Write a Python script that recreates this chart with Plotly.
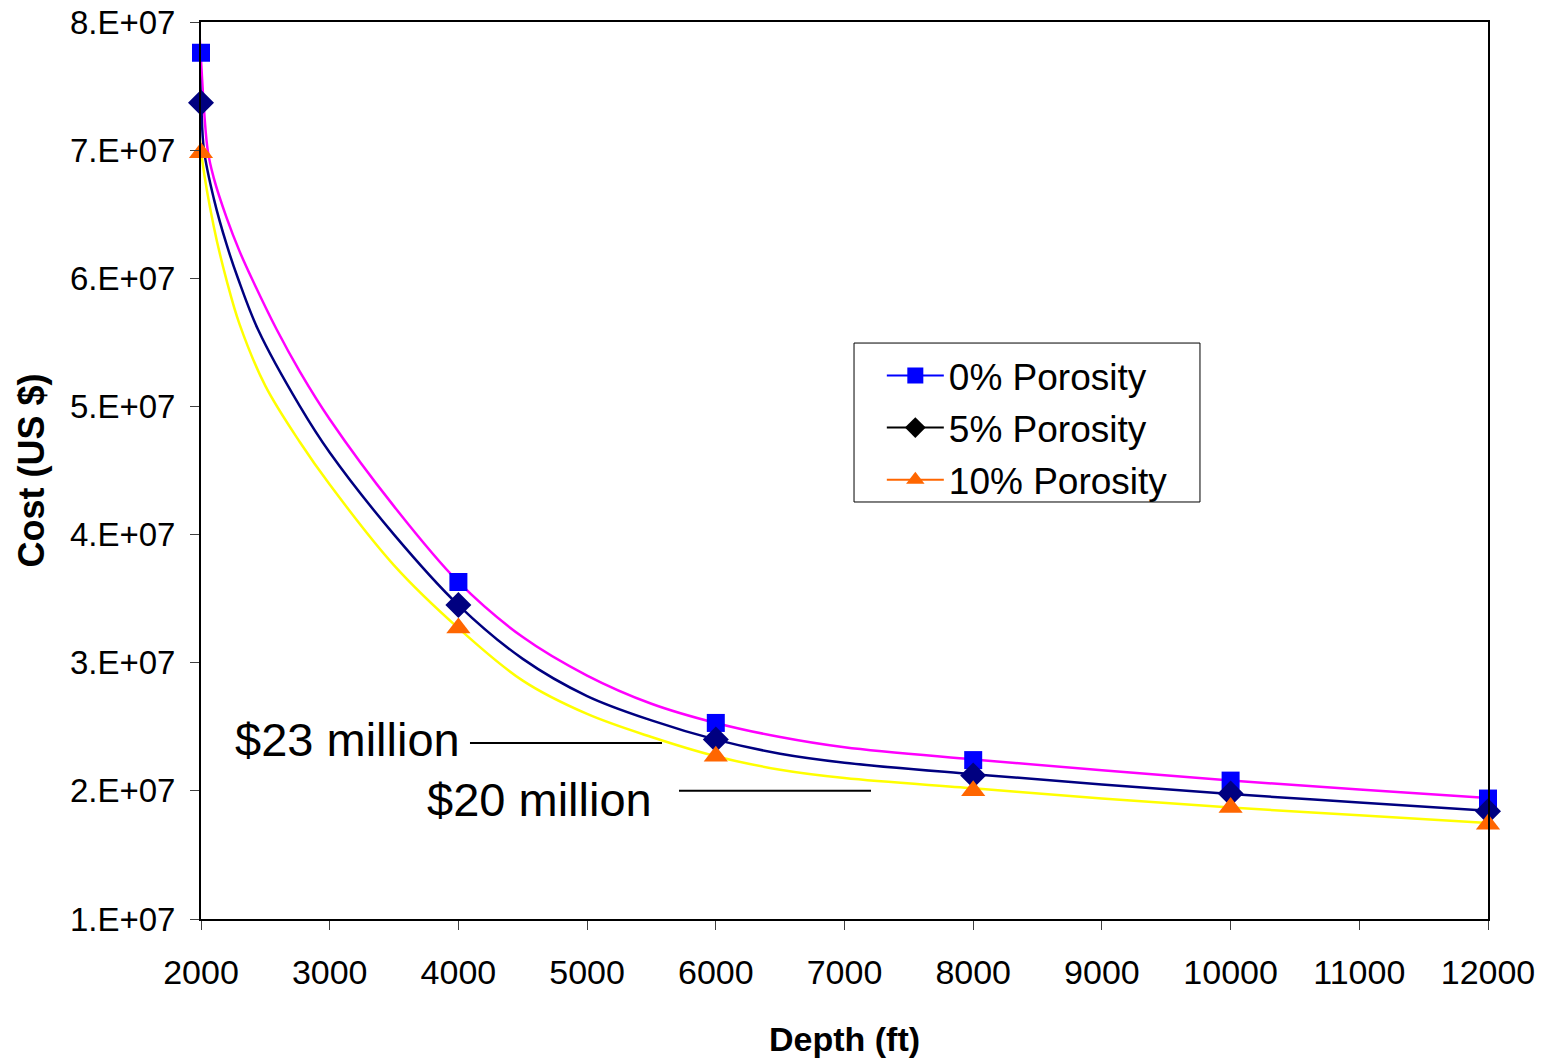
import plotly.graph_objects as go

# Marker data (depth ft, cost US$)
depth = [2000, 4000, 6000, 8000, 10000, 12000]
cost_0 = [7.76e7, 3.63e7, 2.53e7, 2.24e7, 2.08e7, 1.94e7]
cost_5 = [7.37e7, 3.45e7, 2.40e7, 2.12e7, 1.98e7, 1.84e7]
cost_10 = [6.98e7, 3.27e7, 2.27e7, 2.00e7, 1.87e7, 1.74e7]

# Smoothed curves
curve0_x = [1984, 2000, 2052, 2100, 2200, 2300, 2394, 2588, 2769, 3000, 3500, 4000, 4500, 5000, 5500, 6000, 6500, 7000, 8000, 9000, 10000, 11000, 12000]
curve0_y = [8.00e7, 7.70e7, 7.00e7, 6.78e7, 6.47e7, 6.21e7, 6.00e7, 5.60e7, 5.27e7, 4.90e7, 4.22e7, 3.63e7, 3.20e7, 2.90e7, 2.68e7, 2.53e7, 2.42e7, 2.34e7, 2.245e7, 2.16e7, 2.08e7, 2.01e7, 1.945e7]
curve5_x = [1969, 2000, 2023, 2100, 2200, 2287, 2443, 2769, 3000, 3500, 4000, 4500, 5000, 5500, 6000, 6500, 7000, 8000, 9000, 10000, 11000, 12000]
curve5_y = [8.00e7, 7.40e7, 7.00e7, 6.62e7, 6.26e7, 6.00e7, 5.60e7, 5.00e7, 4.64e7, 4.00e7, 3.45e7, 3.03e7, 2.74e7, 2.55e7, 2.40e7, 2.29e7, 2.22e7, 2.13e7, 2.05e7, 1.975e7, 1.91e7, 1.845e7]
curve10_x = [1946, 2000, 2100, 2200, 2300, 2500, 2769, 3000, 3500, 4000, 4500, 5000, 5500, 6000, 6500, 7000, 8000, 9000, 10000, 11000, 12000]
curve10_y = [8.00e7, 7.00e7, 6.40e7, 5.98e7, 5.64e7, 5.16e7, 4.72e7, 4.39e7, 3.76e7, 3.27e7, 2.86e7, 2.60e7, 2.42e7, 2.27e7, 2.165e7, 2.10e7, 2.02e7, 1.94e7, 1.87e7, 1.81e7, 1.75e7]

series_names = ["0% Porosity", "5% Porosity", "10% Porosity"]
y_tickvals = [1e7, 2e7, 3e7, 4e7, 5e7, 6e7, 7e7, 8e7]
y_ticktext = ["1.E+07", "2.E+07", "3.E+07", "4.E+07", "5.E+07", "6.E+07", "7.E+07", "8.E+07"]
x_tickvals = list(range(2000, 12001, 1000))

ARIAL = "Liberation Sans, Arial"

fig = go.Figure()

curve_colors = ["#FF00FF", "#000080", "#FFFF00"]
for cx, cy, col in [(curve0_x, curve0_y, curve_colors[0]),
                    (curve5_x, curve5_y, curve_colors[1]),
                    (curve10_x, curve10_y, curve_colors[2])]:
    fig.add_trace(go.Scatter(x=cx, y=cy, mode="lines",
                             line=dict(color=col, width=2.5, shape="spline", smoothing=1.0),
                             showlegend=False, hoverinfo="skip"))

marker_specs = [
    (cost_0, "square", "#0000FF", 18),
    (cost_5, "diamond", "#000080", 20),
    (cost_10, "triangle-up", "#FF6600", 21),
]
for ys, sym, col, sz in marker_specs:
    fig.add_trace(go.Scatter(x=depth, y=ys, mode="markers",
                             marker=dict(symbol=sym, color=col, size=sz, line=dict(width=0)),
                             showlegend=False, cliponaxis=False))

legend_specs = [
    (series_names[0], "square", "#0000FF", "#0000FF"),
    (series_names[1], "diamond", "#000000", "#000000"),
    (series_names[2], "triangle-up", "#FF6600", "#FF6600"),
]
for i, (name, sym, mcol, lcol) in enumerate(legend_specs):
    fig.add_trace(go.Scatter(x=[None], y=[None], mode="lines+markers", name=name,
                             legendgroup="g%d" % i,
                             line=dict(color=lcol, width=2),
                             marker=dict(symbol=sym, color=mcol, size=16)))

# legend frame
fig.add_shape(type="rect", xref="paper", yref="paper",
              x0=0.5074, x1=0.7762, y0=0.4649, y1=0.6421,
              line=dict(color="black", width=1), fillcolor="white", layer="above")

# annotation leader lines
fig.add_shape(type="line", x0=4090, x1=5582, y0=2.373e7, y1=2.373e7,
              line=dict(color="black", width=2))
fig.add_shape(type="line", x0=5714, x1=7206, y0=2.0e7, y1=2.0e7,
              line=dict(color="black", width=2))
fig.add_annotation(x=4030, y=2.397e7, text="$23 million", showarrow=False,
                   xanchor="right", yanchor="middle",
                   font=dict(family=ARIAL, size=47, color="black"))
fig.add_annotation(x=5520, y=1.929e7, text="$20 million", showarrow=False,
                   xanchor="right", yanchor="middle",
                   font=dict(family=ARIAL, size=47, color="black"))

fig.update_layout(
    width=1545, height=1058,
    margin=dict(l=201, r=57, t=22, b=139),
    paper_bgcolor="white", plot_bgcolor="white",
    font=dict(family=ARIAL, color="black"),
    legend=dict(x=0.529, y=0.640, xanchor="left", yanchor="top",
                bgcolor="rgba(0,0,0,0)", borderwidth=0,
                font=dict(family=ARIAL, size=37, color="black"),
                itemwidth=57, tracegroupgap=1),
    xaxis=dict(range=[2000, 12000], tickvals=x_tickvals,
               ticktext=[str(v) for v in x_tickvals],
               showgrid=False, zeroline=False, automargin=False,
               showline=True, linecolor="black", linewidth=2, mirror=True,
               ticks="outside", ticklen=9, tickwidth=1, tickcolor="#404040",
               ticklabelstandoff=13,
               tickfont=dict(family=ARIAL, size=34, color="black"),
               title=dict(text="<b>Depth (ft)</b>", standoff=38,
                          font=dict(family=ARIAL, size=34, color="black"))),
    yaxis=dict(range=[1e7, 8e7], tickvals=y_tickvals, ticktext=y_ticktext,
               showgrid=False, zeroline=False, automargin=False,
               showline=True, linecolor="black", linewidth=2, mirror=True,
               ticks="outside", ticklen=9, tickwidth=1, tickcolor="#404040",
               ticklabelstandoff=8,
               tickfont=dict(family=ARIAL, size=33, color="black"),
               title=dict(text="<b>Cost (US $)</b>", standoff=14,
                          font=dict(family=ARIAL, size=36, color="black"))),
)

fig.write_html("out.html")
